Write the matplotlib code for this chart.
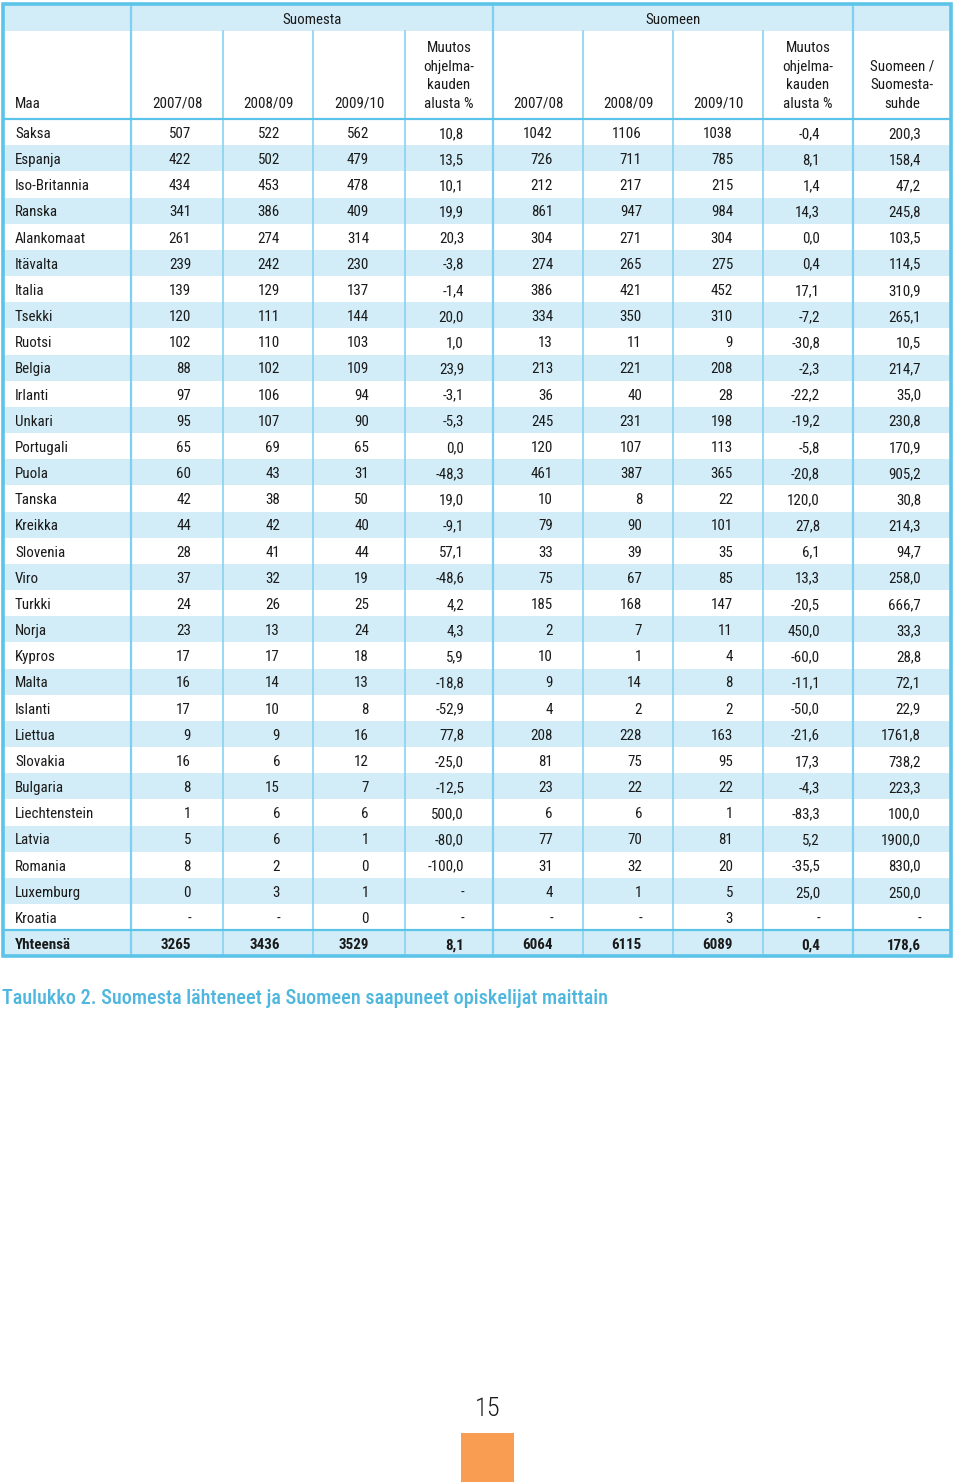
import matplotlib.pyplot as plt
from matplotlib.patches import Rectangle

plt.rcParams['font.family'] = ['Roboto Condensed', 'DejaVu Sans']

# data
maat = ['Saksa', 'Espanja', 'Iso-Britannia', 'Ranska', 'Alankomaat', 'Itävalta', 'Italia',
        'Tsekki', 'Ruotsi', 'Belgia', 'Irlanti', 'Unkari', 'Portugali', 'Puola', 'Tanska',
        'Kreikka', 'Slovenia', 'Viro', 'Turkki', 'Norja', 'Kypros', 'Malta', 'Islanti',
        'Liettua', 'Slovakia', 'Bulgaria', 'Liechtenstein', 'Latvia', 'Romania',
        'Luxemburg', 'Kroatia']
suomesta_0708 = ['507', '422', '434', '341', '261', '239', '139', '120', '102', '88', '97', '95',
                 '65', '60', '42', '44', '28', '37', '24', '23', '17', '16', '17', '9', '16',
                 '8', '1', '5', '8', '0', '-']
suomesta_0809 = ['522', '502', '453', '386', '274', '242', '129', '111', '110', '102', '106',
                 '107', '69', '43', '38', '42', '41', '32', '26', '13', '17', '14', '10', '9',
                 '6', '15', '6', '6', '2', '3', '-']
suomesta_0910 = ['562', '479', '478', '409', '314', '230', '137', '144', '103', '109', '94',
                 '90', '65', '31', '50', '40', '44', '19', '25', '24', '18', '13', '8', '16',
                 '12', '7', '6', '1', '0', '1', '0']
suomesta_muutos = ['10,8', '13,5', '10,1', '19,9', '20,3', '-3,8', '-1,4', '20,0', '1,0',
                   '23,9', '-3,1', '-5,3', '0,0', '-48,3', '19,0', '-9,1', '57,1', '-48,6',
                   '4,2', '4,3', '5,9', '-18,8', '-52,9', '77,8', '-25,0', '-12,5', '500,0',
                   '-80,0', '-100,0', '-', '-']
suomeen_0708 = ['1042', '726', '212', '861', '304', '274', '386', '334', '13', '213', '36',
                '245', '120', '461', '10', '79', '33', '75', '185', '2', '10', '9', '4', '208',
                '81', '23', '6', '77', '31', '4', '-']
suomeen_0809 = ['1106', '711', '217', '947', '271', '265', '421', '350', '11', '221', '40',
                '231', '107', '387', '8', '90', '39', '67', '168', '7', '1', '14', '2', '228',
                '75', '22', '6', '70', '32', '1', '-']
suomeen_0910 = ['1038', '785', '215', '984', '304', '275', '452', '310', '9', '208', '28',
                '198', '113', '365', '22', '101', '35', '85', '147', '11', '4', '8', '2', '163',
                '95', '22', '1', '81', '20', '5', '3']
suomeen_muutos = ['-0,4', '8,1', '1,4', '14,3', '0,0', '0,4', '17,1', '-7,2', '-30,8', '-2,3',
                  '-22,2', '-19,2', '-5,8', '-20,8', '120,0', '27,8', '6,1', '13,3', '-20,5',
                  '450,0', '-60,0', '-11,1', '-50,0', '-21,6', '17,3', '-4,3', '-83,3', '5,2',
                  '-35,5', '25,0', '-']
suhde = ['200,3', '158,4', '47,2', '245,8', '103,5', '114,5', '310,9', '265,1', '10,5', '214,7',
         '35,0', '230,8', '170,9', '905,2', '30,8', '214,3', '94,7', '258,0', '666,7', '33,3',
         '28,8', '72,1', '22,9', '1761,8', '738,2', '223,3', '100,0', '1900,0', '830,0',
         '250,0', '-']
yhteensa = ['Yhteensä', '3265', '3436', '3529', '8,1', '6064', '6115', '6089', '0,4', '178,6']

col_headers = ['Maa', '2007/08', '2008/09', '2009/10', 'Muutos\nohjelma-\nkauden\nalusta %',
               '2007/08', '2008/09', '2009/10', 'Muutos\nohjelma-\nkauden\nalusta %',
               'Suomeen /\nSuomesta-\nsuhde']
group_headers = ['Suomesta', 'Suomeen']
caption = 'Taulukko 2. Suomesta lähteneet ja Suomeen saapuneet opiskelijat maittain'
page_no = '15'

# layout (pixels)
W, H = 960, 1482
col_x = [3, 131, 223, 313, 405, 493, 583, 673, 763, 853, 951]
num_right = [0, 191, 280, 369, 464, 553, 642, 733, 820, 921]
top = 4
head1_bottom = 31
head_bottom = 119
row_h = 26.17
blue = '#d3edf8'
line = '#7fcff0'
border = '#5cc4e8'
txt = '#1a1a1a'

fig = plt.figure(figsize=(W / 100, H / 100), dpi=100)
ax = fig.add_axes([0, 0, 1, 1])
ax.set_xlim(0, W)
ax.set_ylim(H, 0)
ax.axis('off')

columns = [maat, suomesta_0708, suomesta_0809, suomesta_0910, suomesta_muutos,
           suomeen_0708, suomeen_0809, suomeen_0910, suomeen_muutos, suhde]
rows = [[c[i] for c in columns] for i in range(len(maat))] + [yhteensa]
n = len(rows)
bottom = head_bottom + n * row_h

# header fill
ax.add_patch(Rectangle((col_x[0], top), col_x[-1] - col_x[0], head1_bottom - top,
                       color=blue, lw=0, zorder=0))
# alternating row fills
for i in range(n):
    if i % 2 == 1:
        y0 = head_bottom + i * row_h
        ax.add_patch(Rectangle((col_x[0], y0), col_x[-1] - col_x[0], row_h,
                               color=blue, lw=0, zorder=0))

# vertical lines
for j, x in enumerate(col_x[1:-1], start=1):
    if j in (1, 5, 9):
        ax.plot([x, x], [top, bottom], color=line, lw=1.6, zorder=1)
    else:
        ax.plot([x, x], [head1_bottom, bottom], color=line, lw=1.1, zorder=1)
# horizontal separators
ax.plot([col_x[0], col_x[-1]], [head_bottom, head_bottom], color=border, lw=1.6, zorder=2)
ytot = head_bottom + (n - 1) * row_h
ax.plot([col_x[0], col_x[-1]], [ytot, ytot], color=border, lw=1.6, zorder=2)
# outer border
ax.add_patch(Rectangle((col_x[0], top), col_x[-1] - col_x[0], bottom - top,
                       fill=False, ec=border, lw=2.6, zorder=3))

fs = 10.8
fw = 'normal'
# group headers
ax.text((col_x[1] + col_x[5]) / 2, 24, group_headers[0], ha='center', va='baseline',
        fontsize=fs, color=txt, fontweight=fw)
ax.text((col_x[5] + col_x[9]) / 2, 24, group_headers[1], ha='center', va='baseline',
        fontsize=fs, color=txt, fontweight=fw)

# column headers, bottom aligned
for j, h in enumerate(col_headers):
    if j == 0:
        ax.text(15, 108, h, ha='left', va='baseline', fontsize=fs, color=txt, fontweight=fw)
    else:
        cx = (col_x[j] + col_x[j + 1]) / 2
        ax.text(cx, 108, h, ha='center', va='baseline', fontsize=fs, color=txt,
                fontweight=fw, multialignment='center', linespacing=1.42)

# body
for i, r in enumerate(rows):
    yb = head_bottom + (i + 0.5) * row_h + 5.8
    w = 'bold' if i == n - 1 else fw
    for j, v in enumerate(r):
        if j == 0:
            ax.text(15, yb, v, ha='left', va='baseline', fontsize=fs, color=txt, fontweight=w)
        else:
            ax.text(num_right[j], yb, v, ha='right', va='baseline', fontsize=fs,
                    color=txt, fontweight=w)

# caption
ax.text(2, 1004, caption, ha='left', va='baseline', fontsize=14.6, color='#4fb7de',
        fontweight=500)

# page number and tab
ax.text(488, 1416, page_no, ha='center', va='baseline', fontsize=19, color=txt, fontweight=300)
ax.add_patch(Rectangle((461, 1433), 53, 49, color='#f99d52', lw=0))

fig.savefig('out.png', dpi=100)
